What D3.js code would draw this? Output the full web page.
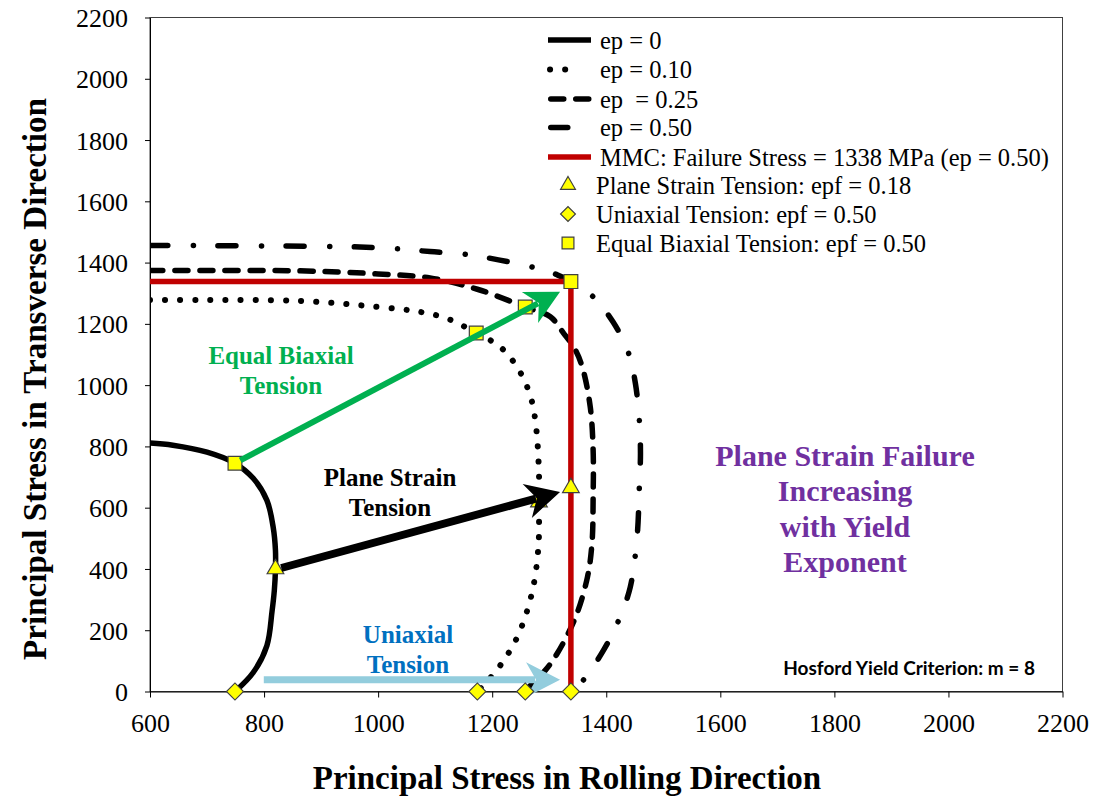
<!DOCTYPE html>
<html>
<head>
<meta charset="utf-8">
<script src="https://cdn.jsdelivr.net/npm/d3@7"></script>
<style>
  html, body { margin: 0; padding: 0; background: #fff; }
  svg { display: block; }
  text { font-family: "Liberation Serif", "Times New Roman", serif; }
</style>
</head>
<body>
<svg id="chart" width="1094" height="796"></svg>
<script>
// Hosford yield loci (m = 8) for several plastic strains, sigma1 = rolling, sigma2 = transverse (MPa)
const ep0 = [[600,811],[640,804],[700,781],[749,745],[781,696],[805,624],[816,536],[820,460],[820,400],[818,330],[814,262],[805,150],[781,62],[749,0]];
const ep010 = [[600,1278],[700,1278],[863,1275],[995,1256],[1074,1239],[1123,1216],[1172,1170],[1214,1125],[1247,1049],[1268,958],[1277,863],[1282,713],[1282,618],[1281,471],[1270,324],[1246,186],[1219,98],[1188,26],[1174,0]];
const ep025 = [[600,1374],[863,1373],[1000,1363],[1091,1350],[1174,1313],[1258,1255],[1302,1223],[1325,1170],[1344,1121],[1358,1059],[1372,928],[1377,788],[1377,634],[1375,484],[1367,373],[1346,242],[1314,124],[1293,69],[1270,26],[1258,0]];
const ep050 = [[600,1456],[968,1451],[1033,1445],[1091,1436],[1149,1428],[1211,1409],[1267,1387],[1314,1360],[1338,1338],[1375,1292],[1412,1206],[1439,1105],[1451,1007],[1458,886],[1460,778],[1458,667],[1454,503],[1442,340],[1421,229],[1395,134],[1362,42],[1340,0]];

// MMC failure stress limit (ep = 0.50)
const failureStress = 1338;
const mmcLimit = [[600,failureStress],[failureStress,failureStress],[failureStress,0]];

// Failure points on each locus
const planeStrainPts = [[820,400],[1282,618],[1338,665]];
const uniaxialPts = [[749,0],[1174,0],[1258,0],[1338,0]];
const biaxialPts = [[749,745],[1172,1170],[1258,1255],[1338,1338]];

// Loading-path arrows
const arrowPaths = [
  {from:[749,745], to:[1319,1305], color:"#00B050", width:6},
  {from:[820,398], to:[1319,651], color:"#000000", width:8},
  {from:[789,38], to:[1319,38], color:"#93CDDD", width:7}
];

const xTicks = [600,800,1000,1200,1400,1600,1800,2000,2200];
const yTicks = [0,200,400,600,800,1000,1200,1400,1600,1800,2000,2200];

const legendLines = ["ep = 0","ep = 0.10","ep  = 0.25","ep = 0.50","MMC: Failure Stress = 1338 MPa (ep = 0.50)"];
const legendMarkers = ["Plane Strain Tension: epf = 0.18","Uniaxial Tension: epf = 0.50","Equal Biaxial Tension: epf = 0.50"];

const svg = d3.select("#chart");
const plotLeft = 150, plotRight = 1062.5, plotTop = 17.5, plotBottom = 691.5;
const serif = "'Liberation Serif', 'Times New Roman', serif";

const x = d3.scaleLinear().domain([600,2200]).range([plotLeft,plotRight]);
const y = d3.scaleLinear().domain([0,2200]).range([plotBottom,plotTop]);

svg.append("defs").append("clipPath").attr("id","plotClip")
  .append("rect").attr("x",plotLeft).attr("y",plotTop).attr("width",plotRight-plotLeft).attr("height",plotBottom-plotTop);

// frame
svg.append("rect").attr("x",plotLeft).attr("y",plotTop).attr("width",plotRight-plotLeft).attr("height",plotBottom-plotTop)
  .attr("fill","none").attr("stroke","#404040").attr("stroke-width",1);

// axes
const yAxis = svg.append("g").attr("transform",`translate(${plotLeft},0)`)
  .call(d3.axisLeft(y).tickValues(yTicks).tickSize(5).tickSizeOuter(0).tickFormat(d3.format("d")));
yAxis.attr("font-family", serif);
yAxis.selectAll("text").attr("x",-22).attr("dy","0.35em")
  .style("font-family",serif).style("font-size","26px").attr("fill","#000");

const xAxis = svg.append("g").attr("transform",`translate(0,${plotBottom})`)
  .call(d3.axisBottom(x).tickValues(xTicks).tickSize(6).tickSizeOuter(0).tickFormat(d3.format("d")));
xAxis.attr("font-family", serif);
xAxis.selectAll("text").attr("y",31).attr("dy","0.35em")
  .style("font-family",serif).style("font-size","26px").attr("fill","#000");
svg.selectAll(".domain").attr("stroke","#000");
svg.selectAll(".tick line").attr("stroke","#000");

// axis titles
svg.append("text").attr("x",567).attr("y",777).attr("text-anchor","middle").attr("dy","0.35em")
  .style("font-family",serif).style("font-size","33px").style("font-weight","bold")
  .text("Principal Stress in Rolling Direction");
svg.append("text").attr("transform","translate(34,379) rotate(-90)").attr("text-anchor","middle").attr("dy","0.35em")
  .attr("textLength",562).attr("lengthAdjust","spacingAndGlyphs")
  .style("font-family",serif).style("font-size","33px").style("font-weight","bold")
  .text("Principal Stress in Transverse Direction");

const line = d3.line().x(d => x(d[0])).y(d => y(d[1])).curve(d3.curveCatmullRom.alpha(0.5));
const straight = d3.line().x(d => x(d[0])).y(d => y(d[1]));

const styles = [
  {dash:null, cap:"butt", w:5.5},
  {dash:"0.1 15", cap:"round", w:6},
  {dash:"13 12", cap:"round", w:5.5},
  {dash:"18 25.5 0.1 24.4", cap:"round", w:5.5}
];

const plot = svg.append("g").attr("clip-path","url(#plotClip)");
[ep0, ep010, ep025, ep050].forEach((data, i) => {
  plot.append("path").datum(data).attr("d", line).attr("fill","none")
    .attr("stroke","#000").attr("stroke-width",styles[i].w)
    .attr("stroke-linecap",styles[i].cap)
    .attr("stroke-dasharray",styles[i].dash);
});

plot.append("path").datum(mmcLimit).attr("d", straight).attr("fill","none")
  .attr("stroke","#C00000").attr("stroke-width",5.5);

// markers
const markerStyle = sel => sel.attr("fill","#FFFF00").attr("stroke","#404040").attr("stroke-width",1.2);
const tri = d3.symbol().type(d3.symbolTriangle).size(120);
const dia = d3.symbol().type(d3.symbolSquare).size(144);
const sq = d3.symbol().type(d3.symbolSquare).size(190);

function drawMarkers(pts, gen) {
  plot.selectAll(null).data(pts).enter().append("path")
    .attr("d", gen)
    .attr("transform", d => `translate(${x(d[0])},${y(d[1])})`)
    .call(markerStyle);
}
drawMarkers(planeStrainPts, tri);
drawMarkers(biaxialPts, sq);

// arrows
arrowPaths.forEach(a => {
  const x0 = x(a.from[0]), y0 = y(a.from[1]), x1 = x(a.to[0]), y1 = y(a.to[1]);
  const len = Math.hypot(x1-x0, y1-y0);
  const ux = (x1-x0)/len, uy = (y1-y0)/len, nx = -uy, ny = ux;
  const L = 34, W = 17.5, notch = 24;
  const sx = x0 + ux*6, sy = y0 + uy*6;
  svg.append("line").attr("x1",sx).attr("y1",sy)
    .attr("x2",x1 - ux*(notch+1)).attr("y2",y1 - uy*(notch+1))
    .attr("stroke",a.color).attr("stroke-width",a.width);
  const pts = [
    [x1, y1],
    [x1 - ux*L + nx*W, y1 - uy*L + ny*W],
    [x1 - ux*notch, y1 - uy*notch],
    [x1 - ux*L - nx*W, y1 - uy*L - ny*W]
  ];
  svg.append("polygon").attr("points", pts.map(p => p.join(",")).join(" ")).attr("fill",a.color);
});

// uniaxial failure points on the rolling-direction axis
svg.selectAll(null).data(uniaxialPts).enter().append("path")
  .attr("d", dia).attr("transform", d => `translate(${x(d[0])},${y(d[1])}) rotate(45)`).call(markerStyle);

// annotations
function label(lines, cx, cy, gap, size, color) {
  lines.forEach((t, i) => {
    svg.append("text").attr("x",cx).attr("y",cy + i*gap).attr("dy","0.35em")
      .attr("text-anchor","middle").style("font-family",serif)
      .style("font-size",size+"px").style("font-weight","bold")
      .attr("fill",color).text(t);
  });
}
label(["Equal Biaxial","Tension"], 281, 355, 30, 25, "#00B050");
label(["Plane Strain","Tension"], 390, 477, 30, 25, "#000000");
label(["Uniaxial","Tension"], 408, 634, 30, 25, "#0070C0");
label(["Plane Strain Failure","Increasing","with Yield","Exponent"], 845, 455, 35.5, 30, "#7030A0");

svg.append("text").attr("x",1035).attr("y",668).attr("dy","0.35em").attr("text-anchor","end")
  .style("font-family","Lato, 'Open Sans', sans-serif").style("font-size","19px").style("font-weight","bold")
  .text("Hosford Yield Criterion: m = 8");

// legend
const legRows = [40, 69.5, 99, 127.5, 157];
const legSpans = [[548,591],[550,580.1],[550.75,588.75],[550.75,567.75],[548,591]];
legendLines.forEach((t, i) => {
  const isMMC = i === 4;
  const st = isMMC ? {dash:null, cap:"butt", w:5.5} : styles[i];
  svg.append("line").attr("x1",legSpans[i][0]).attr("x2",legSpans[i][1])
    .attr("y1",legRows[i]).attr("y2",legRows[i])
    .attr("stroke", isMMC ? "#C00000" : "#000").attr("stroke-width",st.w)
    .attr("stroke-linecap",st.cap).attr("stroke-dasharray",st.dash);
  svg.append("text").attr("x",600).attr("y",legRows[i]).attr("dy","0.35em")
    .style("font-family",serif).style("white-space","pre")
    .style("font-size","24.5px").text(t);
});
const mRows = [185, 214, 243];
const mGens = [d3.symbol().type(d3.symbolTriangle).size(95), d3.symbol().type(d3.symbolSquare).size(110), d3.symbol().type(d3.symbolSquare).size(140)];
legendMarkers.forEach((t, i) => {
  svg.append("path").attr("d", mGens[i])
    .attr("transform",`translate(568,${mRows[i]})` + (i === 1 ? " rotate(45)" : "")).call(markerStyle);
  svg.append("text").attr("x",596).attr("y",mRows[i]).attr("dy","0.35em")
    .style("font-family",serif).style("font-size","24.5px").text(t);
});
</script>
</body>
</html>
